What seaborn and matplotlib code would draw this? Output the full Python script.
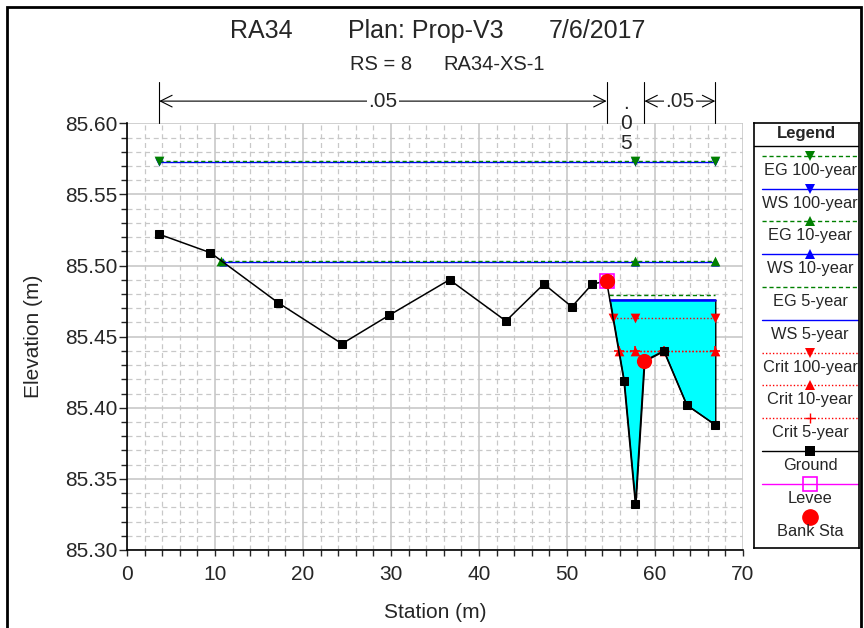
import numpy as np
import pandas as pd
import matplotlib
matplotlib.use("Agg")
import matplotlib.pyplot as plt
import seaborn as sns
from matplotlib.ticker import MultipleLocator, FormatStrFormatter
from matplotlib.patches import Rectangle
import matplotlib.transforms as mtransforms

# ---------------- data ----------------
station = [3.66, 9.48, 17.14, 24.43, 29.78, 36.65, 43.06, 47.37, 50.55, 52.87,
           54.50, 56.47, 57.78, 58.80, 61.00, 63.60, 66.85]
ground = [85.522, 85.509, 85.474, 85.445, 85.465, 85.490, 85.461, 85.487, 85.471, 85.487,
          85.489, 85.419, 85.332, 85.433, 85.440, 85.402, 85.388]
bank_sta = [54.50, 58.80]
levee_sta = [54.50]
eg_100, ws_100 = 85.5737, 85.5728
eg_10, ws_10 = 85.5034, 85.5025
eg_5, ws_5 = 85.479, 85.476
crit_100, crit_10, crit_5 = 85.463, 85.440, 85.440
n_values = [".05", ".05", ".05"]
n_breaks = [3.66, 54.50, 58.80, 66.85]

title_parts = ["RA34", "Plan: Prop-V3", "7/6/2017"]
subtitle_parts = ["RS = 8", "RA34-XS-1"]
legend_labels = ["EG 100-year", "WS 100-year", "EG 10-year", "WS 10-year", "EG 5-year",
                 "WS 5-year", "Crit 100-year", "Crit 10-year", "Crit 5-year", "Ground",
                 "Levee", "Bank Sta"]

# ---------------- style ----------------
sns.set_style("white")
plt.rcParams["font.family"] = ["Liberation Sans", "DejaVu Sans"]

W, H = 864, 628
fig = plt.figure(figsize=(W / 100, H / 100), dpi=100)

def fx(px):
    return px / W

def fy(py):
    return 1 - py / H

ax = fig.add_axes([fx(127), fy(550), fx(743) - fx(127), fy(123.3) - fy(550)])

sta = np.array(station)
gr = np.array(ground)
levee_elev = float(np.interp(levee_sta[0], sta, gr))
levee_idx = int(np.argmin(np.abs(sta - levee_sta[0])))
thalweg = sta[int(np.argmin(gr))]

def left_edge(level):
    start = 0 if level > levee_elev else levee_idx
    if gr[start] < level:
        return sta[start]
    for i in range(start, len(sta) - 1):
        if gr[i] >= level and gr[i + 1] < level:
            return sta[i] + (sta[i + 1] - sta[i]) * (gr[i] - level) / (gr[i] - gr[i + 1])
    return sta[start]

def marker_positions(level):
    x0 = left_edge(level)
    pts = [x0, thalweg, sta[-1]]
    touch = sta[(np.abs(gr - level) < 0.0005) & (sta > x0)]
    pts += list(touch)
    return sorted(set(np.round(pts, 4)))

GREEN = "#008000"
BLUE = "#0000ff"
RED = "#ff0000"

# water fill for WS 5-year
x0 = left_edge(ws_5)
xs = np.concatenate([[x0], sta[sta > x0]])
gs = np.interp(xs, sta, gr)
ax.fill_between(xs, gs, ws_5, facecolor="#00ffff", edgecolor="black", linewidth=1, zorder=2)

def level_line(level, color, ls, lw, marker, z, ms=7):
    x0 = left_edge(level)
    df = pd.DataFrame({"x": [x0, sta[-1]], "y": [level, level]})
    sns.lineplot(data=df, x="x", y="y", color=color, linestyle=ls, linewidth=lw,
                 ax=ax, zorder=z, estimator=None, sort=False)
    if marker is not None:
        mp = marker_positions(level)
        sns.scatterplot(x=mp, y=[level] * len(mp), marker=marker, color=color,
                        s=ms ** 2, linewidth=0 if marker != "+" else 1.2,
                        edgecolor=color, ax=ax, zorder=z + 0.1)

level_line(ws_100, BLUE, "-", 1.0, "v", 3, ms=6)
level_line(eg_100, GREEN, (0, (3, 2)), 1.0, "v", 3.5)
level_line(ws_10, BLUE, "-", 1.0, "^", 3, ms=6)
level_line(eg_10, GREEN, (0, (3, 2)), 1.0, "^", 3.5)
level_line(ws_5, BLUE, "-", 1.8, None, 3)
level_line(eg_5, GREEN, (0, (3, 2)), 1.0, None, 3.5)
level_line(crit_5, RED, (0, (1, 1.5)), 1.0, "+", 4)
level_line(crit_100, RED, (0, (1, 1.5)), 1.0, "v", 4.2)
level_line(crit_10, RED, (0, (1, 1.5)), 1.0, "^", 4.4)

# ground
gdf = pd.DataFrame({"Station": station, "Elevation": ground})
sns.lineplot(data=gdf, x="Station", y="Elevation", color="black", linewidth=1.1,
             marker="s", markersize=6, markeredgecolor="black", ax=ax, zorder=5,
             estimator=None, sort=False)

# levee and bank stations
ax.plot(levee_sta, np.interp(levee_sta, sta, gr), linestyle="none", marker="s",
        markersize=9.5, markerfacecolor="none", markeredgecolor="#ff00ff",
        markeredgewidth=1.2, zorder=6)
sns.scatterplot(x=bank_sta, y=np.interp(bank_sta, sta, gr), color=RED, s=120,
                edgecolor=RED, linewidth=0, ax=ax, zorder=7)

# axes
ax.set_xlim(0, 70)
ax.set_ylim(85.30, 85.60)
ax.xaxis.set_major_locator(MultipleLocator(10))
ax.xaxis.set_minor_locator(MultipleLocator(2))
ax.yaxis.set_major_locator(MultipleLocator(0.05))
ax.yaxis.set_minor_locator(MultipleLocator(0.01))
ax.yaxis.set_major_formatter(FormatStrFormatter("%.2f"))
ax.grid(which="major", color="#c8c8c8", linewidth=1.2, linestyle="-", zorder=0)
ax.grid(which="minor", color="#c8c8c8", linewidth=0.9, linestyle=(0, (4, 3)), zorder=0)
ax.set_axisbelow(True)
for s in ["top", "right"]:
    ax.spines[s].set_visible(False)
for s in ["left", "bottom"]:
    ax.spines[s].set_color("black")
    ax.spines[s].set_linewidth(1.2)
ax.tick_params(axis="y", which="major", direction="out", length=6, width=1,
               pad=1, labelsize=15, left=True)
ax.tick_params(axis="y", which="minor", direction="out", length=4.5, width=1, left=True)
ax.tick_params(axis="x", which="major", direction="out", length=4.5, width=1,
               pad=6, labelsize=15, bottom=True)
ax.tick_params(axis="x", which="minor", direction="out", length=4.5, width=1, bottom=True)
ax.set_xlabel("Station (m)", fontsize=15)
ax.set_ylabel("Elevation (m)", fontsize=15)
ax.xaxis.set_label_coords(0.5, -0.125)
ax.yaxis.set_label_coords(-0.137, 0.5)

# Manning's n annotations above the plot
trans = mtransforms.blended_transform_factory(ax.transData, ax.transAxes)
for xb in n_breaks:
    ax.plot([xb, xb], [1.0, 1.096], transform=trans, color="black", lw=0.8,
            clip_on=False, zorder=8)
for i, nv in enumerate(n_values):
    a, b = n_breaks[i], n_breaks[i + 1]
    mid = (a + b) / 2
    if b - a > 6:
        ax.annotate("", xy=(b, 1.052), xytext=(a, 1.052), xycoords=trans, textcoords=trans,
                    arrowprops=dict(arrowstyle="<->,head_length=0.7,head_width=0.35",
                                    color="black", lw=0.8, shrinkA=0, shrinkB=0,
                                    mutation_scale=12), annotation_clip=False)
        ax.text(mid, 1.052, nv, transform=trans, ha="center", va="center", fontsize=15,
                bbox=dict(facecolor="white", edgecolor="none", pad=1.0), zorder=9)
    else:
        ax.text(mid, 1.0, "\n".join(list(nv)), transform=trans, ha="center", va="center",
                fontsize=15, linespacing=1.05, zorder=9)

# titles
fig.text(fx(230), fy(31), title_parts[0], ha="left", va="center", fontsize=18)
fig.text(fx(348), fy(31), title_parts[1], ha="left", va="center", fontsize=18)
fig.text(fx(646), fy(31), title_parts[2], ha="right", va="center", fontsize=18)
fig.text(fx(350), fy(64.5), subtitle_parts[0], ha="left", va="center", fontsize=14.5)
fig.text(fx(443), fy(64.5), subtitle_parts[1], ha="left", va="center", fontsize=14.5)

# outer frame
fig.patches.append(Rectangle((fx(7), -0.05), fx(861) - fx(7), fy(7) + 0.05,
                             transform=fig.transFigure, fill=False, edgecolor="black",
                             linewidth=2, zorder=10))

# legend panel
lx0, lx1, ly0, ly1 = 754, 859.3, 123.3, 548.3
lax = fig.add_axes([fx(lx0), fy(ly1), fx(lx1) - fx(lx0), fy(ly0) - fy(ly1)])
lax.set_xlim(lx0, lx1)
lax.set_ylim(ly1, ly0)
lax.set_xticks([])
lax.set_yticks([])
lax.set_facecolor("white")
for s in lax.spines.values():
    s.set_color("black")
    s.set_linewidth(1.2)
lax.text((lx0 + lx1) / 2, 133, "Legend", ha="center", va="center", fontsize=12,
         fontweight="bold")
lax.plot([lx0, lx1], [145.7, 145.7], color="black", lw=1)

leg_styles = [
    dict(color=GREEN, ls=(0, (3, 2)), marker="v"),
    dict(color=BLUE, ls="-", marker="v"),
    dict(color=GREEN, ls=(0, (3, 2)), marker="^"),
    dict(color=BLUE, ls="-", marker="^"),
    dict(color=GREEN, ls=(0, (3, 2)), marker=None),
    dict(color=BLUE, ls="-", marker=None),
    dict(color=RED, ls=(0, (1, 1.5)), marker="v"),
    dict(color=RED, ls=(0, (1, 1.5)), marker="^"),
    dict(color=RED, ls=(0, (1, 1.5)), marker="+"),
    dict(color="black", ls="-", marker="s"),
    dict(color="#ff00ff", ls="-", marker="s", open=True),
    dict(color=RED, ls="none", marker="o"),
]
for i, (lab, st) in enumerate(zip(legend_labels, leg_styles)):
    yl = 155.7 + 32.8 * i
    if st["ls"] != "none":
        lax.plot([761.7, 858], [yl, yl], color=st["color"], linestyle=st["ls"], lw=1)
    if st["marker"] is not None:
        if st.get("open"):
            lax.plot([810], [yl], marker="s", markersize=10, markerfacecolor="none",
                     markeredgecolor=st["color"], markeredgewidth=1.2)
        elif st["marker"] == "o":
            lax.plot([810], [yl], marker="o", markersize=11, color=st["color"])
        elif st["marker"] == "+":
            lax.plot([810], [yl], marker="+", markersize=7, color=st["color"], mew=1)
        else:
            lax.plot([810], [yl], marker=st["marker"], markersize=7, color=st["color"],
                     markeredgewidth=0)
    lax.text(810, yl + 14.5, lab, ha="center", va="center", fontsize=11.8)

fig.savefig("out.png", dpi=100)
